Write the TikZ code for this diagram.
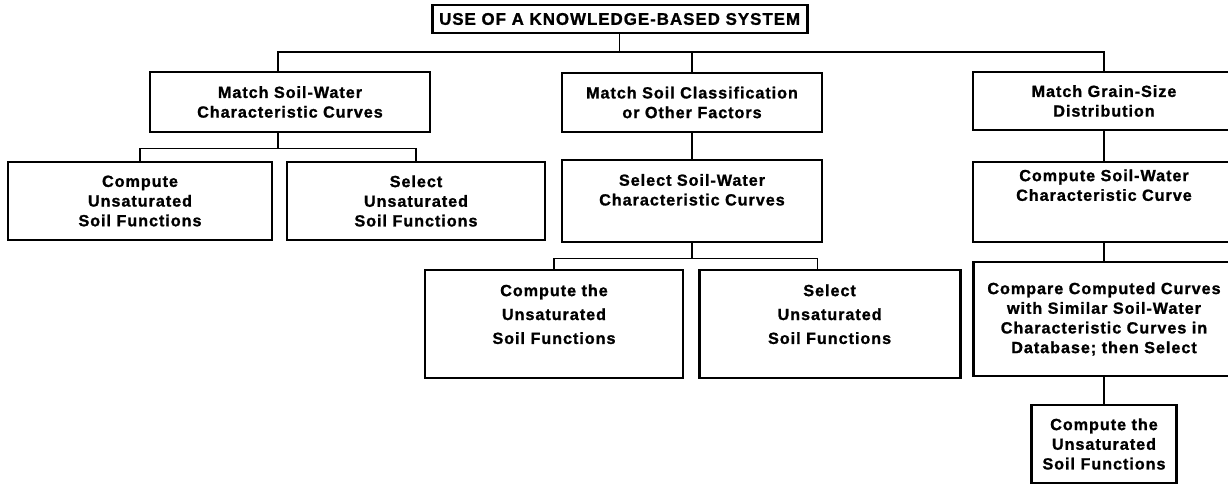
\documentclass[tikz,border=0pt]{standalone}
\usepackage{fontspec}
\setmainfont{Liberation Sans}
\newfontfamily\kbsfont[LetterSpace=6,BoldFeatures={FakeBold=1.2}]{Liberation Sans}
\usetikzlibrary{calc}
\tikzset{
	kbox/.style={draw=black,line width=2pt,align=center,inner sep=2pt,
		font=\kbsfont\bfseries\fontsize{11.5}{14}\selectfont},
	link/.style={line width=0.9pt},
}

\begin{document}
\begin{tikzpicture}
		\useasboundingbox (0,0) rectangle (30.7,-12.125);
		\node[kbox,minimum width=9.375cm,minimum height=0.7cm,font=\kbsfont\bfseries\fontsize{12}{14}\selectfont] (title) at (15.49,-0.475) {USE OF A KNOWLEDGE-BASED SYSTEM};
		% first level
		\node[kbox,minimum width=7cm,minimum height=1.5cm] (l1) at (7.25,-2.55) {Match Soil-Water\\Characteristic Curves};
		\node[kbox,minimum width=6.5cm,minimum height=1.475cm] (m1) at (17.3,-2.5625) {Match Soil Classification\\or Other Factors};
		\node[kbox,minimum width=6.55cm,minimum height=1.45cm] (r1) at (27.6,-2.525) {Match Grain-Size\\Distribution};
		% second level
		\node[kbox,minimum width=6.6cm,minimum height=1.95cm] (l2a) at (3.5,-5.025) {Compute\\Unsaturated\\Soil Functions};
		\node[kbox,minimum width=6.45cm,minimum height=1.95cm] (l2b) at (10.4,-5.025) {Select\\Unsaturated\\Soil Functions};
		\node[kbox,minimum width=6.5cm,minimum height=2.05cm] (m2) at (17.3,-5.025) {Select Soil-Water\\Characteristic Curves\\[2pt]\mbox{}};
		\node[kbox,minimum width=6.55cm,minimum height=2cm] (r2) at (27.6,-5.05) {Compute Soil-Water\\Characteristic Curve\\[10pt]\mbox{}};
		% third level
		\node[kbox,minimum width=6.45cm,minimum height=2.7cm] (m3a) at (13.85,-8.1) {Compute the\\[3pt]Unsaturated\\[3pt]Soil Functions\\\mbox{}};
		\node[kbox,minimum width=6.525cm,minimum height=2.7cm] (m3b) at (20.74,-8.1) {Select\\[3pt]Unsaturated\\[3pt]Soil Functions\\\mbox{}};
		\node[kbox,minimum width=6.525cm,minimum height=2.85cm] (r3) at (27.6,-7.975) {Compare Computed Curves\\with Similar Soil-Water\\Characteristic Curves in\\Database; then Select};
		\node[kbox,minimum width=3.625cm,minimum height=1.95cm] (r4) at (27.6,-11.1) {Compute the\\Unsaturated\\Soil Functions};
		% connectors
		\coordinate (bus) at (15.49,-1.3);
		\draw[link] (title.south) -- (bus);
		\draw[link] ([xshift=-0.3cm]l1.north) |- (bus) -| (r1.north);
		\draw[link] (m1.north) -- (m1.north |- bus);
		\draw[link] ([xshift=-0.3cm]l1.south) -- ++(0,-0.375) coordinate (lbus);
		\draw[link] (l2a.north) |- (lbus) -| (l2b.north);
		\draw[link] (m1) -- (m2);
		\draw[link] (m2.south) -- ++(0,-0.375) coordinate (mbus);
		\draw[link] (m3a.north) |- (mbus) -| ([xshift=-0.3cm]m3b.north);
		\draw[link] (r1) -- (r2);
		\draw[link] (r2) -- (r3);
		\draw[link] (r3) -- (r4);
	\end{tikzpicture}
\end{document}
